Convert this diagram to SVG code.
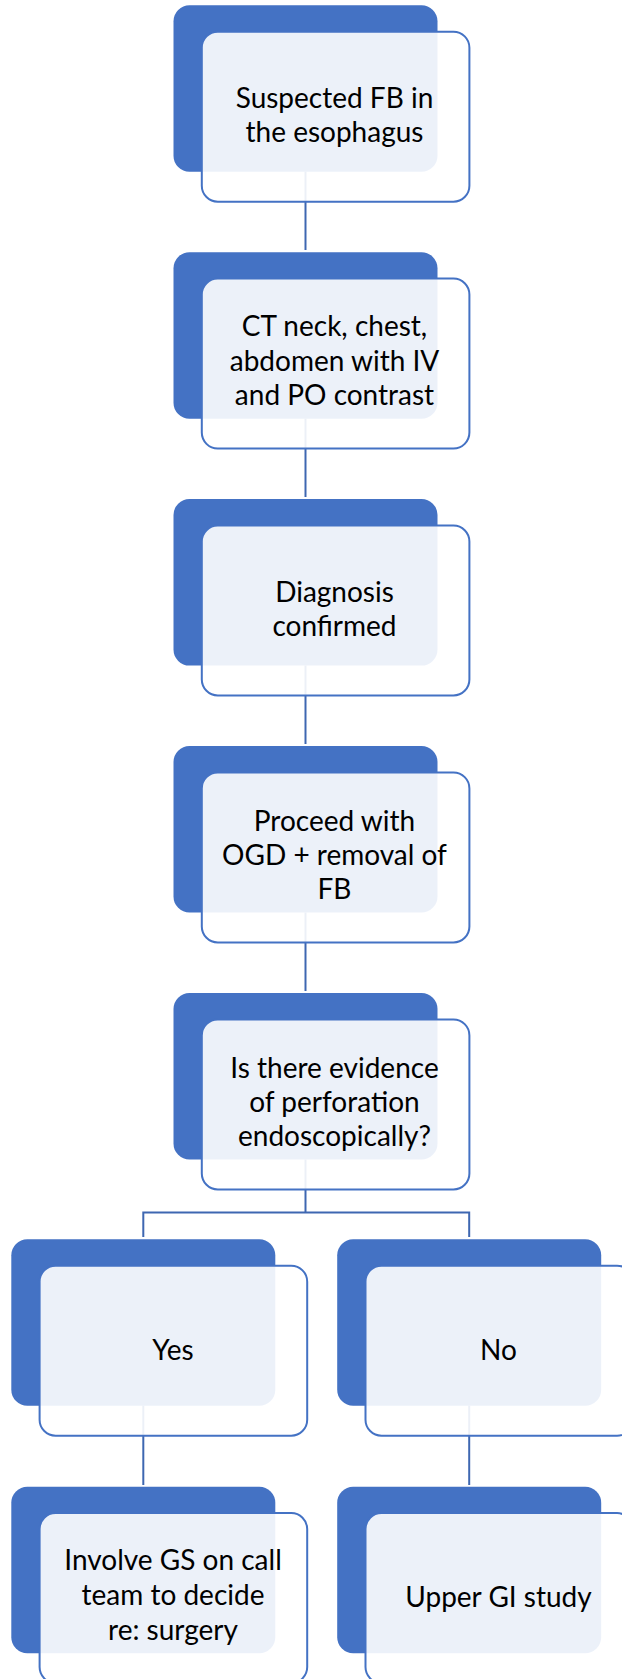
<svg xmlns="http://www.w3.org/2000/svg" width="622" height="1679" viewBox="0 0 622 1679">
<style>
.back{fill:#4472C4;}
.front{fill:#FFFFFF;fill-opacity:0.9;stroke:#4472C4;stroke-width:2;}
.conn{fill:none;stroke:#3E67B1;stroke-width:2;}
.lbl{font-family:Lato,"Liberation Sans",sans-serif;font-size:28px;fill:#000000;text-anchor:middle;}
</style>
<rect width="622" height="1679" fill="#FFFFFF"/>
<g id="connectors">
<line class="conn" x1="305.5" y1="171.5" x2="305.5" y2="250"/>
<line class="conn" x1="305.5" y1="418.5" x2="305.5" y2="497"/>
<line class="conn" x1="305.5" y1="665.5" x2="305.5" y2="744"/>
<line class="conn" x1="305.5" y1="912.5" x2="305.5" y2="991"/>
<polyline class="conn" points="305.5,1159.5 305.5,1212.5"/>
<polyline class="conn" points="143.3,1237 143.3,1212.5 469.2,1212.5 469.2,1237"/>
<line class="conn" x1="143.3" y1="1405.5" x2="143.3" y2="1485"/>
<line class="conn" x1="469.2" y1="1405.5" x2="469.2" y2="1485"/>
</g>
<g id="node1">
<rect class="back" x="173.5" y="5.3" width="264" height="166.5" rx="16"/>
<rect class="front" x="201.8" y="31.7" width="267.6" height="170" rx="16"/>
<text class="lbl" x="334.5"><tspan x="334.5" y="108.3">Suspected FB in</tspan><tspan x="334.5" y="141.7">the esophagus</tspan></text>
</g>
<g id="node2">
<rect class="back" x="173.5" y="252.2" width="264" height="166.5" rx="16"/>
<rect class="front" x="201.8" y="278.6" width="267.6" height="170" rx="16"/>
<text class="lbl"><tspan x="334.5" y="336">CT neck, chest,</tspan><tspan x="334.5" y="370.5">abdomen with IV</tspan><tspan x="334.5" y="405">and PO contrast</tspan></text>
</g>
<g id="node3">
<rect class="back" x="173.5" y="499.1" width="264" height="166.5" rx="16"/>
<rect class="front" x="201.8" y="525.5" width="267.6" height="170" rx="16"/>
<text class="lbl"><tspan x="334.5" y="601.7">Diagnosis</tspan><tspan x="334.5" y="636">confirmed</tspan></text>
</g>
<g id="node4">
<rect class="back" x="173.5" y="746" width="264" height="166.5" rx="16"/>
<rect class="front" x="201.8" y="772.4" width="267.6" height="170" rx="16"/>
<text class="lbl"><tspan x="334.5" y="830.7">Proceed with</tspan><tspan x="334.5" y="865">OGD + removal of</tspan><tspan x="334.5" y="899.3">FB</tspan></text>
</g>
<g id="node5">
<rect class="back" x="173.5" y="993" width="264" height="166.5" rx="16"/>
<rect class="front" x="201.8" y="1019.4" width="267.6" height="170" rx="16"/>
<text class="lbl"><tspan x="334.5" y="1077.7">Is there evidence</tspan><tspan x="334.5" y="1111.7">of perforation</tspan><tspan x="334.5" y="1145.7">endoscopically?</tspan></text>
</g>
<g id="node-yes">
<rect class="back" x="11.3" y="1239.3" width="264" height="166.5" rx="16"/>
<rect class="front" x="39.6" y="1265.7" width="267.6" height="170" rx="16"/>
<text class="lbl" x="173" y="1360">Yes</text>
</g>
<g id="node-no">
<rect class="back" x="337.2" y="1239.3" width="264" height="166.5" rx="16"/>
<rect class="front" x="365.5" y="1265.7" width="267.6" height="170" rx="16"/>
<text class="lbl" x="498.5" y="1360">No</text>
</g>
<g id="node-gs">
<rect class="back" x="11.3" y="1486.7" width="264" height="166.5" rx="16"/>
<rect class="front" x="39.6" y="1513.1" width="267.6" height="170" rx="16"/>
<text class="lbl"><tspan x="173" y="1570">Involve GS on call</tspan><tspan x="173" y="1605">team to decide</tspan><tspan x="173" y="1640">re: surgery</tspan></text>
</g>
<g id="node-ugi">
<rect class="back" x="337.2" y="1486.7" width="264" height="166.5" rx="16"/>
<rect class="front" x="365.5" y="1513.1" width="267.6" height="170" rx="16"/>
<text class="lbl" x="498.5" y="1606.7">Upper GI study</text>
</g>
</svg>
